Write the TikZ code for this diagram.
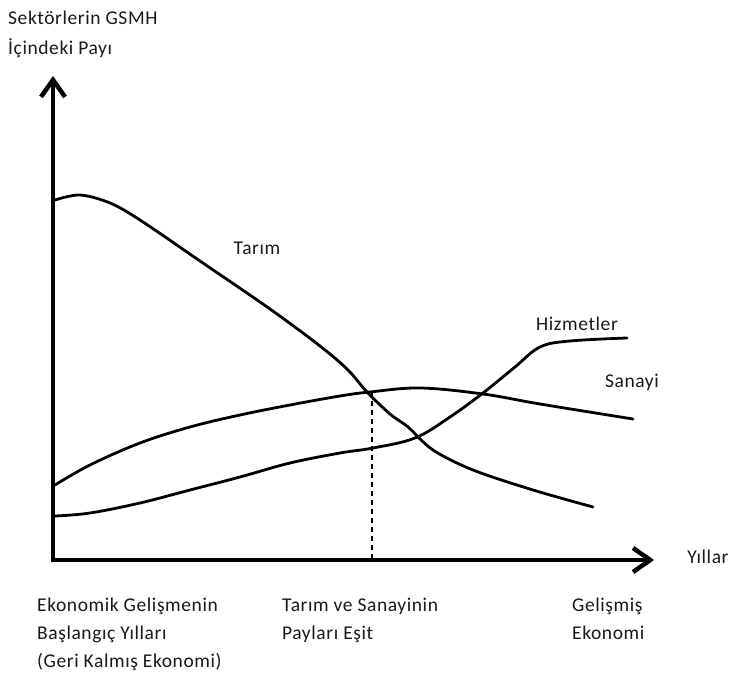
\documentclass[tikz,border=0pt]{standalone}
\usepackage{fontspec}
\setmainfont{Carlito}[LetterSpace=3]
\usetikzlibrary{arrows.meta}
\begin{document}
\begin{tikzpicture}[x=1pt,y=-1pt,
  axis/.style={line width=4.5pt, -{Straight Barb[length=17pt,width=24pt,line width=4.5pt]}},
  curve/.style={line width=2.8pt, line cap=round, line join=round},
  lbl/.style={font=\fontsize{19.5}{28}\selectfont, text=black!90, inner sep=0pt},
  lblL/.style={lbl, anchor=west, align=left}]
\useasboundingbox (0,0) rectangle (732,677);
\coordinate (o) at (53,560);
\coordinate (ytop) at (53,76);
\coordinate (xend) at (654,560);
\draw[axis] (53,562) -- (ytop);
\draw[axis] (51,560) -- (xend);
% Tarim
\draw[curve] plot[smooth, tension=0.55] coordinates {(55,200) (80,195) (110,203) (140,220) (200,261) (270,309) (320,346) (348,370) (367,392) (390,414) (408,427) (433,450) (473,470) (533,490) (593,507)};
% Sanayi
\draw[curve] plot[smooth, tension=0.6] coordinates {(55,485) (90,465) (140,443) (190,427) (240,415) (290,405) (340,396) (370,392) (420,388) (483,394) (540,404) (633,419)};
% Hizmetler
\draw[curve] plot[smooth, tension=0.6] coordinates {(55,516) (90,513) (140,503) (190,490) (240,477) (290,463) (340,453) (373,448) (415,438) (450,417) (483,393) (515,367) (540,347) (570,341) (627,338)};
\coordinate (eq) at (372,392);
\coordinate (eqb) at (372,560);
\draw[line width=1.2pt, dash pattern=on 5pt off 4pt] (eq) -- (eqb);
\node[lblL] (t1) at (8,18) {Sektörlerin GSMH};
\node[lblL] (t2) at (8,48) {İçindeki Payı};
\node[lbl] (tarim) at (257,248) {Tarım};
\node[lbl] (hiz) at (577,324) {Hizmetler};
\node[lbl] (san) at (632,382) {Sanayi};
\node[lbl] (yil) at (708,557) {Yıllar};
\node[lblL, anchor=north west] (b1) at (37,598) {Ekonomik Gelişmenin\\Başlangıç Yılları\\(Geri Kalmış Ekonomi)};
\node[lblL, anchor=north west] (b2) at (282,598) {Tarım ve Sanayinin\\Payları Eşit};
\node[lblL, anchor=north west] (b3) at (572,598) {Gelişmiş\\Ekonomi};
\end{tikzpicture}
\end{document}
